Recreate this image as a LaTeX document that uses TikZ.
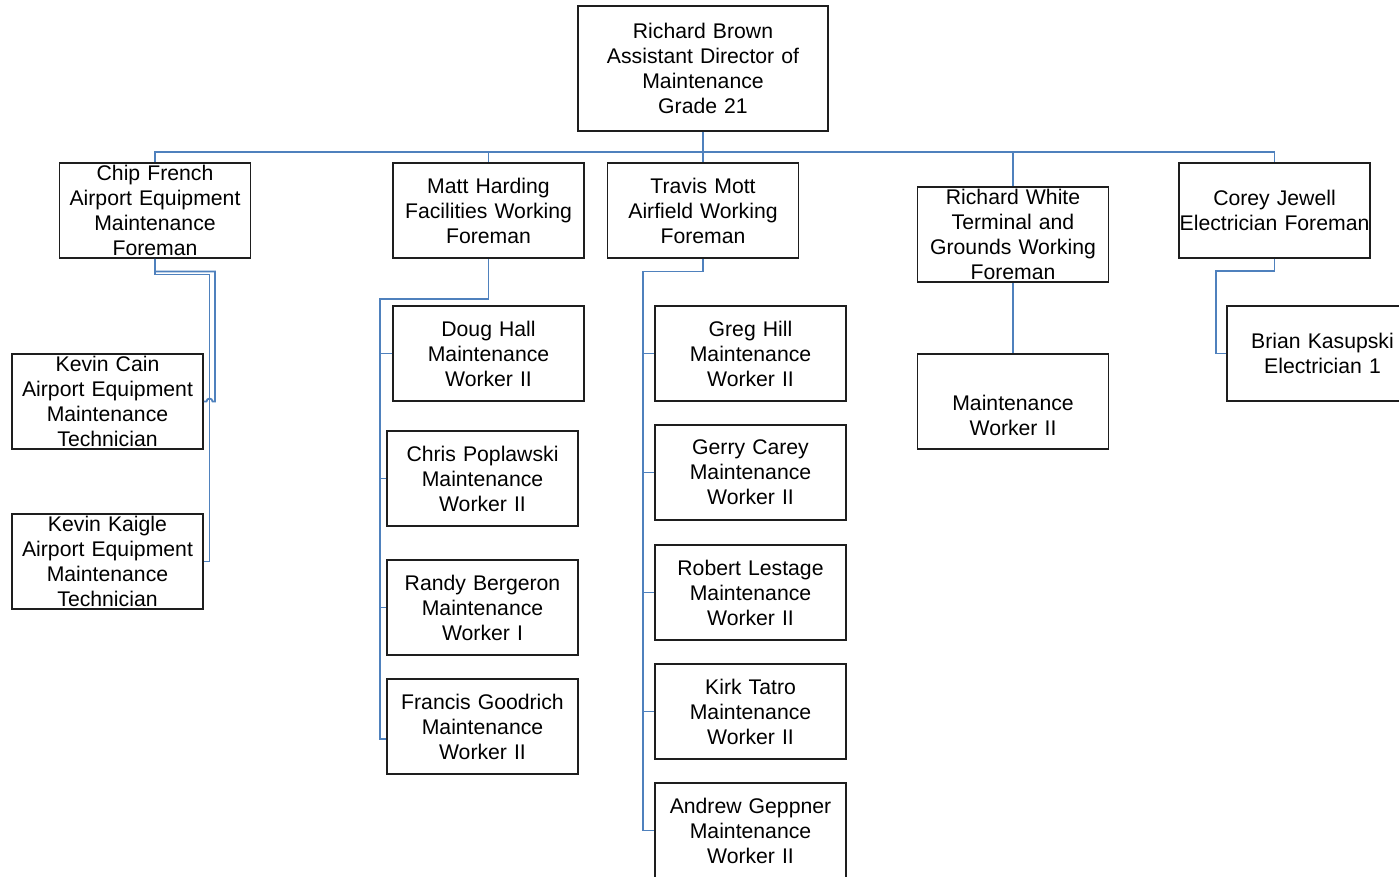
\documentclass[tikz,border=0pt]{standalone}
\usepackage{fontspec}
\setmainfont{Liberation Sans}
\usepackage{xcolor}
\definecolor{link-blue}{HTML}{4F81BD}
\definecolor{box-line}{HTML}{1E1E1E}

\begin{document}
\begin{tikzpicture}[x=0.75pt, y=-0.75pt,
      every node/.style={font=\fontsize{15.9}{18.75}\selectfont},
      staffbox/.style={draw=box-line, line width=1.25pt, fill=white, align=center,
          text width=143.25pt, minimum height=71.25pt, inner xsep=0pt, inner ysep=0pt},
      orgline/.style={draw=link-blue, line width=1.3pt}]
    \fill[white] (0,0) rectangle (1399,877);
    \clip (0,0) rectangle (1399,877);
    % director
    \node[staffbox, text width=187.5pt, minimum height=93.75pt] (brown) at (703,68.5)
        {Richard Brown\\Assistant Director of\\Maintenance\\Grade 21};
    % foremen
    \node[staffbox] (chip) at (155,210.5) {Chip French\\Airport Equipment\\Maintenance\\Foreman};
    \node[staffbox] (matt) at (488.5,210.5) {Matt Harding\\Facilities Working\\Foreman};
    \node[staffbox] (travis) at (703,210.5) {Travis Mott\\Airfield Working\\Foreman};
    \node[staffbox] (white) at (1013,234.5) {Richard White\\Terminal and\\Grounds Working\\Foreman};
    \node[staffbox] (corey) at (1274.5,210.5) {Corey Jewell\\Electrician Foreman};
    % staff
    \node[staffbox] (cain) at (107.5,401.5) {Kevin Cain\\Airport Equipment\\Maintenance\\Technician};
    \node[staffbox] (kaigle) at (107.5,561.5) {Kevin Kaigle\\Airport Equipment\\Maintenance\\Technician};
    \node[staffbox] (doug) at (488.5,353.5) {Doug Hall\\Maintenance\\Worker II};
    \node[staffbox] (chris) at (482.5,478.5) {Chris Poplawski\\Maintenance\\Worker II};
    \node[staffbox] (randy) at (482.5,607.5) {Randy Bergeron\\Maintenance\\Worker I};
    \node[staffbox] (francis) at (482.5,726.5) {Francis Goodrich\\Maintenance\\Worker II};
    \node[staffbox] (greg) at (750.5,353.5) {Greg Hill\\Maintenance\\Worker II};
    \node[staffbox] (gerry) at (750.5,472.5) {Gerry Carey\\Maintenance\\Worker II};
    \node[staffbox] (robert) at (750.5,592.5) {Robert Lestage\\Maintenance\\Worker II};
    \node[staffbox] (kirk) at (750.5,711.5) {Kirk Tatro\\Maintenance\\Worker II};
    \node[staffbox] (andrew) at (750.5,830.5) {Andrew Geppner\\Maintenance\\Worker II};
    \node[staffbox] (mwtwo) at (1013,401.5) {\strut\\Maintenance\\Worker II};
    \node[staffbox] (brian) at (1322.5,353.5) {Brian Kasupski\\Electrician 1};
    % bus
    \coordinate (bus) at (703,152);
    \draw[orgline] (brown.south) -- (travis.north);
    \draw[orgline] (chip.north) |- (bus) -| (corey.north);
    \draw[orgline] (matt.north) -- (matt.north |- bus);
    \draw[orgline] (white.north) -- (white.north |- bus);
    % chip french
    \draw[orgline] (chip.south) |- (215,271.5) |- (212.5,401.5)
        arc[start angle=0, end angle=-180, radius=3] -- (cain.east);
    \draw[orgline] (chip.south) |- (209.5,274.5) |- (kaigle.east);
    % matt harding
    \coordinate (mattrail) at (380,299);
    \draw[orgline] (matt.south) |- (mattrail) |- ([yshift=-9.4pt]francis.west);
    \foreach \n in {doug,chris,randy}
      \draw[orgline] (\n.west) -- (\n.west -| mattrail);
    % travis mott
    \coordinate (travrail) at (643,271.5);
    \draw[orgline] (travis.south) |- (travrail) |- (andrew.west);
    \foreach \n in {greg,gerry,robert,kirk}
      \draw[orgline] (\n.west) -- (\n.west -| travrail);
    % richard white, corey jewell
    \draw[orgline] (white.south) -- (mwtwo.north);
    \draw[orgline] (corey.south) |- (1216,271) |- (brian.west);
\end{tikzpicture}
\end{document}
